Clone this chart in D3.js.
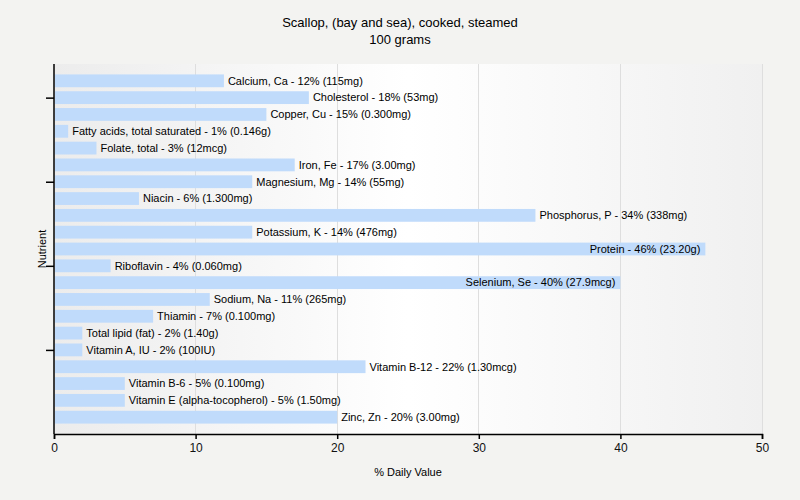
<!DOCTYPE html>
<html>
<head>
<meta charset="utf-8">
<script src="https://cdn.jsdelivr.net/npm/d3@7"></script>
<style>
  html, body { margin: 0; padding: 0; background: #f3f3f1; }
  svg { display: block; font-family: "Liberation Sans", Arial, sans-serif; }
</style>
</head>
<body>
<svg id="chart" width="800" height="500"></svg>
<script>
const titleLines = ["Scallop, (bay and sea), cooked, steamed", "100 grams"];
const nutrients = ["Calcium, Ca", "Cholesterol", "Copper, Cu", "Fatty acids, total saturated", "Folate, total", "Iron, Fe", "Magnesium, Mg", "Niacin", "Phosphorus, P", "Potassium, K", "Protein", "Riboflavin", "Selenium, Se", "Sodium, Na", "Thiamin", "Total lipid (fat)", "Vitamin A, IU", "Vitamin B-12", "Vitamin B-6", "Vitamin E (alpha-tocopherol)", "Zinc, Zn"];
const percents = [12, 18, 15, 1, 3, 17, 14, 6, 34, 14, 46, 4, 40, 11, 7, 2, 2, 22, 5, 5, 20];
const amounts = ["115mg", "53mg", "0.300mg", "0.146g", "12mcg", "3.00mg", "55mg", "1.300mg", "338mg", "476mg", "23.20g", "0.060mg", "27.9mcg", "265mg", "0.100mg", "1.40g", "100IU", "1.30mcg", "0.100mg", "1.50mg", "3.00mg"];
const xTicks = [0, 10, 20, 30, 40, 50];
const yTickCategories = ["Cholesterol", "Magnesium, Mg", "Riboflavin", "Vitamin A, IU"];
const xLabel = "% Daily Value";
const yLabel = "Nutrient";

const svg = d3.select("#chart");
const m = { left: 54, right: 38, top: 64, bottom: 66 };
const W = 800, H = 500;
const pw = W - m.left - m.right, ph = H - m.top - m.bottom;

const defs = svg.append("defs");
const grad = defs.append("linearGradient").attr("id", "bg").attr("x1", "0%").attr("x2", "100%").attr("y1", "0%").attr("y2", "0%");
grad.append("stop").attr("offset", "0%").attr("stop-color", "#ececec");
grad.append("stop").attr("offset", "50%").attr("stop-color", "#ffffff");
grad.append("stop").attr("offset", "100%").attr("stop-color", "#f0f0f0");

const g = svg.append("g").attr("transform", `translate(${m.left},${m.top})`);
g.append("rect").attr("width", pw).attr("height", ph).attr("fill", "url(#bg)");

const x = d3.scaleLinear().domain([0, 50]).range([0, pw]);
const y = d3.scalePoint().domain(nutrients).range([0, ph]).padding(1);
const barH = 12.8;

// grid
g.selectAll("line.grid").data(xTicks.filter(d => d > 0)).join("line")
  .attr("class", "grid")
  .attr("x1", d => x(d)).attr("x2", d => x(d))
  .attr("y1", 0).attr("y2", ph)
  .attr("stroke", "#dedede").attr("stroke-width", 1).attr("shape-rendering", "crispEdges");

const data = nutrients.map((n, i) => ({ n, v: percents[i], a: amounts[i] }));

g.selectAll("rect.bar").data(data).join("rect")
  .attr("class", "bar")
  .attr("x", x(0) + 1)
  .attr("y", d => y(d.n) - barH / 2)
  .attr("width", d => Math.max(0, x(d.v) - x(0) - 1))
  .attr("height", barH)
  .attr("fill", "#c0dbfb");

const labels = g.selectAll("text.lbl").data(data).join("text")
  .attr("class", "lbl")
  .attr("font-size", 11)
  .attr("fill", "#000")
  .attr("dy", "0.35em")
  .attr("y", d => y(d.n))
  .text(d => `${d.n} - ${d.v}% (${d.a})`);
labels.each(function(d) {
  const w = this.getComputedTextLength();
  const end = x(d.v);
  if (end + 4 + w > pw) {
    d3.select(this).attr("x", end - 5).attr("text-anchor", "end");
  } else {
    d3.select(this).attr("x", end + 4).attr("text-anchor", "start");
  }
});

// x axis
const xAxis = g.append("g").attr("transform", `translate(0,${ph})`)
  .call(d3.axisBottom(x).tickValues(xTicks).tickSize(5).tickPadding(4).tickFormat(d3.format("d")));
xAxis.select(".domain").attr("stroke", "#000").attr("stroke-width", 1.5);
xAxis.selectAll(".tick line").attr("stroke", "#000").attr("stroke-width", 1.5);
xAxis.selectAll(".tick text").attr("font-size", 12).attr("fill", "#111").attr("font-family", "Liberation Sans, Arial, sans-serif");

// y axis
const yAxis = g.append("g")
  .call(d3.axisLeft(y).tickValues(yTickCategories).tickSize(8).tickFormat(""));
yAxis.select(".domain").attr("stroke", "#000").attr("stroke-width", 1.5).attr("d", `M0,0V${ph}`);
yAxis.selectAll(".tick line").attr("stroke", "#000").attr("stroke-width", 1.5);

// titles
svg.append("text").attr("x", W / 2).attr("y", 27).attr("text-anchor", "middle")
  .attr("font-size", 13).attr("fill", "#000").text(titleLines[0]);
svg.append("text").attr("x", W / 2).attr("y", 44).attr("text-anchor", "middle")
  .attr("font-size", 13).attr("fill", "#000").text(titleLines[1]);
svg.append("text").attr("x", m.left + pw / 2).attr("y", 476).attr("text-anchor", "middle")
  .attr("font-size", 11).attr("fill", "#000").text(xLabel);
svg.append("text").attr("transform", `translate(46,${m.top + ph / 2}) rotate(-90)`)
  .attr("text-anchor", "middle").attr("font-size", 11).attr("fill", "#000").text(yLabel);
</script>
</body>
</html>
